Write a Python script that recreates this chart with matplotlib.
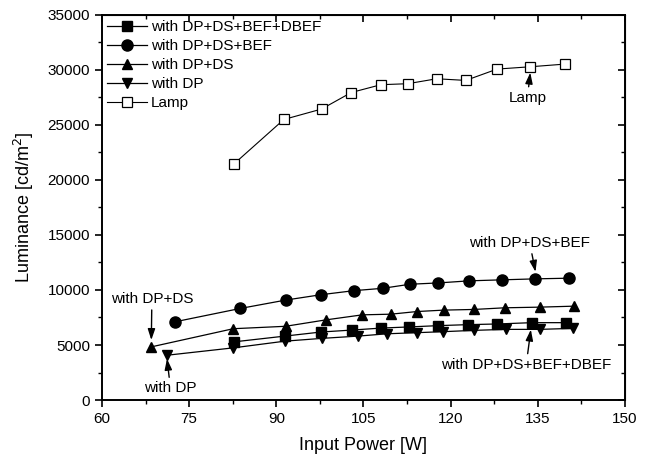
import matplotlib
matplotlib.use("Agg")
import matplotlib.pyplot as plt
from matplotlib.ticker import MultipleLocator

plt.rcParams['font.family'] = ['Liberation Sans', 'DejaVu Sans']

# --- data (input power [W], luminance [cd/m2]) ---
x_dbef = [82.8, 91.5, 97.7, 103.1, 108.1, 112.8, 117.9, 123.0, 128.0, 134.0, 139.8]
y_dbef = [5290, 5810, 6180, 6360, 6540, 6640, 6760, 6850, 6910, 7030, 7030]

x_bef = [72.5, 83.8, 91.6, 97.7, 103.4, 108.3, 113.0, 117.9, 123.2, 128.8, 134.6, 140.3]
y_bef = [7100, 8320, 9080, 9570, 9940, 10150, 10520, 10640, 10830, 10920, 11010, 11070]

x_ds = [68.5, 82.6, 91.6, 98.5, 104.8, 109.7, 114.2, 118.8, 124.0, 129.3, 135.3, 141.3]
y_ds = [4830, 6480, 6700, 7280, 7740, 7800, 8040, 8170, 8230, 8380, 8440, 8530]

x_dp = [71.2, 82.6, 91.5, 97.8, 104.1, 109.1, 114.2, 118.7, 124.0, 129.5, 135.3, 141.0]
y_dp = [4070, 4740, 5350, 5600, 5810, 6020, 6120, 6210, 6330, 6420, 6420, 6510]

x_lamp = [82.8, 91.3, 97.8, 102.9, 108.0, 112.6, 117.6, 122.6, 128.0, 133.7, 139.6]
y_lamp = [21490, 25490, 26440, 27940, 28650, 28740, 29190, 29040, 30070, 30280, 30520]

labels = ["with DP+DS+BEF+DBEF", "with DP+DS+BEF", "with DP+DS", "with DP", "Lamp"]

fig = plt.figure(figsize=(6.45, 4.63), dpi=100)
ax = fig.add_axes([0.158, 0.136, 0.811, 0.832])

lw = 0.9
ax.plot(x_dbef, y_dbef, color="k", lw=lw, marker="s", ms=7, mfc="k", label=labels[0])
ax.plot(x_bef, y_bef, color="k", lw=lw, marker="o", ms=8, mfc="k", label=labels[1])
ax.plot(x_ds, y_ds, color="k", lw=lw, marker="^", ms=7.5, mfc="k", label=labels[2])
ax.plot(x_dp, y_dp, color="k", lw=lw, marker="v", ms=7.5, mfc="k", label=labels[3])
ax.plot(x_lamp, y_lamp, color="k", lw=0.8, marker="s", ms=7, mfc="white", mew=0.9, label=labels[4])

ax.set_xlim(60, 150)
ax.set_ylim(0, 35000)
ax.xaxis.set_major_locator(MultipleLocator(15))
ax.xaxis.set_minor_locator(MultipleLocator(7.5))
ax.yaxis.set_major_locator(MultipleLocator(5000))
ax.yaxis.set_minor_locator(MultipleLocator(2500))

for s in ax.spines.values():
    s.set_linewidth(1.4)
ax.tick_params(which="major", direction="out", length=5, width=1.2, labelsize=11)
ax.tick_params(which="minor", direction="out", length=3, width=1.0)

# mirrored inward ticks on top and right
top = ax.secondary_xaxis("top")
top.xaxis.set_major_locator(MultipleLocator(15))
top.xaxis.set_minor_locator(MultipleLocator(7.5))
top.tick_params(which="major", direction="in", length=5, width=1.2, labeltop=False)
top.tick_params(which="minor", direction="in", length=3, width=1.0)
right = ax.secondary_yaxis("right")
right.yaxis.set_major_locator(MultipleLocator(5000))
right.yaxis.set_minor_locator(MultipleLocator(2500))
right.tick_params(which="major", direction="in", length=5, width=1.2, labelright=False)
right.tick_params(which="minor", direction="in", length=3, width=1.0)

ax.set_xlabel("Input Power [W]", fontsize=13, labelpad=8)
ax.set_ylabel("Luminance [cd/m$^2$]", fontsize=13, labelpad=8)

ax.legend(loc="upper left", frameon=False, fontsize=11, handlelength=2.6,
          handletextpad=0.25, labelspacing=0.33, borderaxespad=0.1, borderpad=0.25)

arrow = dict(arrowstyle="-|>,head_length=0.6,head_width=0.2", color="k", lw=1.0,
             shrinkA=1, shrinkB=0)
ax.annotate("with DP+DS", xy=(68.5, 5450), xytext=(68.6, 9200),
            ha="center", va="center", fontsize=11, arrowprops=arrow)
ax.annotate("with DP", xy=(71.2, 3750), xytext=(71.8, 1050),
            ha="center", va="center", fontsize=11, arrowprops=arrow)
ax.annotate("with DP+DS+BEF", xy=(134.6, 11650), xytext=(133.6, 14300),
            ha="center", va="center", fontsize=11, arrowprops=arrow)
ax.annotate("with DP+DS+BEF+DBEF", xy=(133.8, 6400), xytext=(133.0, 3200),
            ha="center", va="center", fontsize=11, arrowprops=arrow)
ax.annotate("Lamp", xy=(133.7, 29750), xytext=(133.2, 27450),
            ha="center", va="center", fontsize=11, arrowprops=arrow)

fig.savefig("out.png", dpi=100)
